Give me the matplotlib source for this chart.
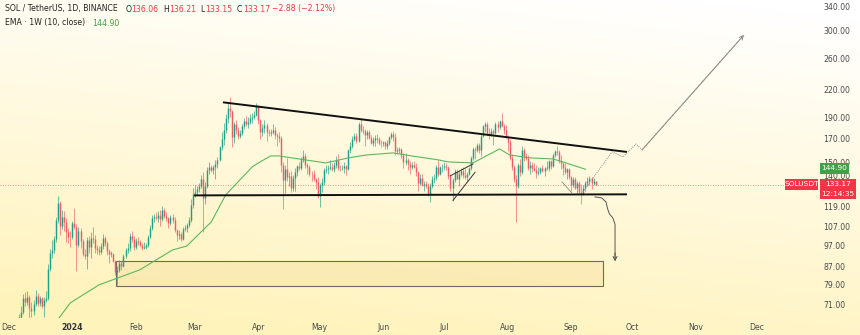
import numpy as np
import pandas as pd
import matplotlib
matplotlib.use("Agg")
import matplotlib.pyplot as plt
import matplotlib.dates as mdates
from matplotlib.patches import Rectangle
from matplotlib.ticker import FixedLocator, NullLocator

W, H = 860, 335

# SOL/USDT daily candles from 2023-12-01, open = previous close
start_day = "2023-12-01"
first_open = 59.0
last_open = 136.06
closes = [
    # Dec
    59.9, 62.2, 61.0, 62.5, 63.5, 66.5, 68.5, 73.8, 72.0, 74.2, 70.0, 68.8, 71.5, 74.6, 71.8, 73.5,
    70.8, 73.0, 73.5, 86.0, 93.5, 94.8, 100.5, 111.0, 121.5, 107.5, 113.0, 110.0, 104.0, 101.5, 101.3,
    # Jan
    109.5, 107.0, 97.5, 105.0, 99.5, 93.0, 92.0, 100.0, 96.5, 101.0, 100.5, 96.0, 95.0, 93.8, 97.0, 101.0,
    98.5, 94.5, 93.0, 93.0, 89.5, 84.5, 85.5, 88.5, 87.3, 92.0, 95.0, 96.0, 102.0, 100.5, 96.5,
    # Feb
    99.5, 99.0, 97.5, 96.0, 96.5, 97.5, 101.5, 106.5, 112.0, 112.5, 112.0, 114.0, 111.5, 117.0, 113.5,
    112.0, 109.0, 113.0, 111.0, 105.5, 102.5, 103.0, 100.5, 106.0, 106.5, 108.0, 111.0, 120.0, 127.5,
    # Mar
    128.5, 130.5, 133.0, 137.5, 124.5, 133.0, 144.5, 146.5, 144.5, 146.5, 149.0, 152.5, 162.5, 170.0, 178.0,
    190.0, 200.0, 196.5, 172.0, 184.0, 178.0, 172.5, 175.5, 182.0, 186.5, 184.0, 186.0, 189.5, 190.5, 193.0, 202.0,
    # Apr
    188.0, 176.0, 180.0, 183.0, 176.0, 175.5, 176.5, 178.5, 173.5, 172.5, 170.5, 148.0, 137.0, 145.0, 139.0,
    139.5, 131.0, 138.5, 143.0, 147.5, 145.5, 152.0, 155.0, 148.0, 146.5, 141.5, 141.0, 137.5, 135.5, 126.0,
    # May
    133.5, 135.5, 144.0, 145.0, 145.5, 147.0, 145.0, 148.0, 152.5, 146.0, 145.5, 146.0, 147.5, 145.0, 160.0,
    163.5, 169.5, 173.0, 168.5, 183.5, 178.5, 177.0, 173.5, 176.5, 171.0, 166.5, 169.0, 171.0, 169.5, 166.5, 166.0,
    # Jun
    167.0, 163.5, 166.5, 171.5, 174.0, 172.0, 159.5, 160.5, 160.8, 156.5, 150.5, 152.0, 149.0, 146.5, 148.5,
    147.0, 142.5, 135.0, 138.5, 133.5, 134.0, 133.0, 127.0, 133.0, 137.5, 138.5, 146.5, 141.0, 146.5, 147.0,
    # Jul
    147.5, 146.5, 140.0, 131.5, 137.0, 143.5, 138.0, 141.0, 143.5, 140.5, 139.0, 141.5, 145.5, 153.5, 161.5,
    160.5, 164.5, 160.5, 173.0, 181.5, 183.5, 175.5, 173.5, 177.0, 175.0, 184.0, 181.0, 186.5, 182.0, 178.5, 171.5,
    # Aug
    167.5, 153.5, 147.0, 137.5, 133.0, 148.0, 143.0, 160.5, 155.0, 154.0, 145.5, 148.5, 146.0, 144.5, 142.0,
    143.0, 145.5, 143.5, 146.0, 146.0, 151.5, 147.5, 156.0, 159.5, 158.5, 151.5, 149.5, 145.5, 143.0, 145.0, 139.0,
    # Sep
    133.5, 137.5, 131.5, 134.5, 128.5, 127.0, 131.5, 134.5, 136.5, 138.5, 134.5, 136.05, 133.17,
]
highs = [
    61.5, 63.0, 64.0, 64.5, 65.0, 67.8, 70.5, 75.2, 76.0, 76.3, 74.8, 72.0, 72.8, 77.0, 75.5, 74.5,
    74.0, 74.0, 76.5, 88.0, 95.5, 100.0, 102.0, 113.0, 126.2, 122.5, 117.0, 116.5, 112.0, 106.5, 104.5,
    110.5, 118.0, 108.5, 107.0, 106.5, 100.5, 95.5, 101.5, 102.0, 104.0, 107.0, 102.5, 97.5, 97.0, 98.5, 103.0,
    102.0, 99.5, 95.5, 94.5, 93.5, 90.0, 87.0, 90.0, 89.5, 93.0, 96.0, 98.5, 103.5, 105.0, 102.0,
    101.0, 101.5, 100.0, 98.5, 99.0, 98.5, 102.5, 108.0, 114.0, 114.5, 116.0, 116.5, 117.0, 119.5, 118.5,
    116.0, 112.5, 114.0, 114.5, 113.0, 106.0, 105.5, 104.0, 107.0, 108.0, 109.5, 112.5, 124.0, 131.0,
    133.5, 132.5, 135.0, 140.5, 142.5, 135.5, 146.5, 150.5, 148.0, 148.5, 152.5, 154.5, 164.0, 176.0, 185.0,
    194.0, 205.0, 212.0, 197.5, 186.0, 188.0, 180.5, 178.0, 183.5, 190.0, 192.0, 190.5, 193.5, 195.0, 196.5, 205.5,
    203.5, 189.0, 183.5, 188.0, 184.5, 179.5, 179.0, 184.0, 181.0, 175.5, 176.5, 172.5, 150.5, 148.0, 153.5,
    142.5, 143.5, 140.5, 145.5, 148.5, 150.5, 154.5, 160.0, 158.0, 149.5, 148.5, 143.5, 144.5, 138.5, 139.0,
    135.0, 138.5, 146.0, 148.0, 148.5, 152.0, 150.0, 150.5, 155.0, 157.0, 148.0, 148.5, 150.5, 148.5, 161.5,
    167.0, 172.5, 175.5, 175.0, 186.0, 189.0, 181.5, 179.5, 178.5, 178.0, 173.5, 171.5, 173.5, 174.0, 172.0, 169.0,
    168.5, 168.0, 169.0, 173.0, 176.0, 177.0, 175.5, 162.5, 163.0, 162.0, 158.0, 158.0, 153.5, 151.5, 150.5,
    151.0, 149.5, 143.5, 141.5, 141.0, 136.0, 136.0, 134.5, 134.5, 139.5, 141.0, 148.5, 152.0, 147.5, 149.0,
    150.5, 150.0, 147.5, 141.5, 138.5, 145.0, 145.0, 144.5, 146.0, 146.5, 146.0, 143.0, 146.5, 155.0, 163.0,
    162.5, 166.5, 166.5, 174.5, 183.0, 186.0, 185.5, 180.0, 180.0, 179.0, 185.5, 187.0, 188.0, 195.0, 184.0, 182.5,
    173.5, 170.0, 157.0, 148.5, 140.5, 150.0, 153.0, 163.5, 162.0, 158.0, 156.5, 151.5, 150.5, 150.0, 148.5,
    146.5, 146.5, 148.5, 147.0, 151.0, 152.5, 152.5, 157.5, 160.5, 163.5, 160.5, 156.0, 150.0, 150.0, 146.0, 145.5,
    140.0, 139.0, 139.0, 136.0, 136.0, 134.0, 133.5, 136.0, 139.0, 140.0, 139.0, 138.5, 136.21,
]
lows = [
    57.8, 59.2, 60.3, 59.5, 61.2, 63.0, 65.0, 67.8, 70.5, 71.0, 64.8, 66.5, 67.5, 70.8, 70.5, 70.8,
    69.8, 66.8, 72.0, 73.0, 85.0, 91.0, 93.5, 99.0, 109.5, 102.5, 106.0, 105.0, 99.0, 98.5, 96.5,
    100.5, 106.0, 85.0, 96.5, 96.0, 92.0, 90.5, 86.0, 93.5, 91.0, 98.5, 93.5, 93.0, 92.5, 93.0, 95.5,
    97.0, 92.5, 88.5, 91.5, 89.0, 83.0, 79.0, 84.5, 85.5, 86.5, 91.0, 93.5, 94.5, 99.0, 95.0,
    95.5, 97.5, 96.5, 95.0, 95.5, 95.5, 96.5, 101.0, 105.5, 110.0, 111.0, 110.0, 107.5, 110.5, 112.0,
    110.5, 106.5, 108.0, 109.5, 104.0, 99.5, 100.5, 99.5, 100.0, 104.5, 104.0, 107.0, 110.0, 118.0,
    125.0, 126.5, 128.5, 131.0, 104.0, 121.0, 131.5, 141.5, 142.5, 141.0, 138.0, 145.5, 151.0, 160.0, 165.0,
    175.0, 185.0, 191.0, 163.0, 166.0, 174.0, 169.5, 171.0, 173.5, 179.0, 181.5, 180.0, 183.5, 185.0, 188.5, 192.0,
    183.5, 170.0, 173.0, 175.5, 168.5, 172.5, 173.0, 174.5, 169.5, 163.5, 167.5, 143.0, 117.5, 128.0, 136.5,
    132.5, 128.5, 129.5, 129.5, 140.0, 144.0, 144.5, 150.5, 146.0, 141.5, 140.0, 136.5, 136.5, 130.5, 124.5,
    119.0, 128.5, 133.5, 142.0, 141.5, 144.0, 143.5, 143.0, 145.5, 144.5, 143.5, 144.0, 142.0, 140.5, 144.5,
    157.5, 162.0, 168.0, 166.0, 167.0, 176.0, 174.5, 163.5, 170.0, 169.5, 165.5, 163.5, 164.0, 166.5, 164.5, 162.5,
    164.0, 161.5, 161.0, 164.5, 170.0, 168.5, 156.5, 157.0, 157.5, 153.5, 145.5, 148.0, 144.5, 141.5, 145.0,
    145.5, 139.5, 129.0, 133.5, 132.5, 129.5, 131.5, 126.0, 122.0, 131.5, 134.5, 137.0, 139.5, 140.5, 142.5,
    144.5, 144.0, 138.0, 129.0, 122.5, 135.5, 137.5, 132.5, 139.5, 138.5, 137.5, 136.5, 140.5, 144.5, 152.5,
    153.0, 158.5, 158.0, 155.5, 171.5, 176.0, 173.5, 169.5, 172.5, 164.5, 174.0, 176.0, 179.5, 181.0, 174.5, 170.5,
    159.5, 152.0, 144.0, 135.5, 110.0, 131.0, 139.5, 141.5, 151.5, 152.5, 144.5, 141.5, 143.0, 143.5, 138.5,
    140.5, 141.5, 142.5, 140.0, 144.5, 143.5, 145.0, 146.5, 154.5, 156.5, 150.0, 145.0, 140.5, 141.5, 137.5, 137.5,
    129.0, 132.0, 130.5, 127.5, 127.5, 121.0, 126.5, 129.5, 133.0, 133.5, 130.5, 133.5, 133.15,
]

# weekly EMA(10) of close, sampled along the daily axis
ema_dates = ["2023-12-24", "2023-12-26", "2023-12-31", "2024-01-14", "2024-02-03", "2024-02-19",
             "2024-02-26", "2024-03-09", "2024-03-16", "2024-03-29", "2024-04-01", "2024-04-07",
             "2024-04-11", "2024-04-24", "2024-05-04", "2024-05-15", "2024-05-24", "2024-06-06",
             "2024-06-15", "2024-06-28", "2024-07-03", "2024-07-15", "2024-07-28", "2024-08-02",
             "2024-08-12", "2024-08-23", "2024-08-28", "2024-09-08"]
ema_values = [65.0, 66.8, 71.8, 78.9, 85.4, 94.8, 96.8, 109.9, 126.6, 146.7, 149.8, 155.4,
              155.4, 152.2, 149.8, 153.8, 156.2, 157.9, 155.4, 152.2, 150.6, 149.8, 161.2, 156.2,
              153.8, 153.0, 150.6, 144.90]

# drawings
resistance = (["2024-03-14 16:00", "2024-09-28 08:00"], [206.0, 158.7])
support = (["2024-02-29 12:00", "2024-09-28 08:00"], [126.3, 127.0])
demand_zone = (["2024-01-22 08:00", "2024-09-16 14:00"], [78.6, 89.5])
wedge_low = (["2024-07-05 05:00", "2024-07-16 00:00"], [123.0, 142.6])
wedge_high = (["2024-07-03 20:00", "2024-07-15 00:00"], [139.9, 149.0])
small_leg = (["2024-08-27 12:00", "2024-09-01 10:00"], [135.6, 127.9])
breakout_path = (["2024-09-06 19:00", "2024-09-21 00:00", "2024-09-26 10:00", "2024-10-02 19:00",
                  "2024-10-05 17:00", "2024-11-24 14:00"],
                 [128.6, 158.7, 154.6, 165.5, 160.4, 293.5])
breakdown_path = (["2024-09-12 17:00", "2024-09-16 00:00", "2024-09-18 02:00", "2024-09-18 22:00",
                   "2024-09-19 18:00", "2024-09-21 10:00", "2024-09-22 12:00", "2024-09-22 12:00"],
                  [125.3, 124.6, 122.0, 117.5, 114.6, 112.2, 108.5, 90.6])

price_ticks = [340, 300, 260, 220, 190, 170, 150, 140, 119, 107, 97, 87, 79, 71]
month_ticks = ["2023-12-01", "2024-01-01", "2024-02-01", "2024-03-01", "2024-04-01", "2024-05-01",
               "2024-06-01", "2024-07-01", "2024-08-01", "2024-09-01", "2024-10-01", "2024-11-01",
               "2024-12-01"]
month_labels = ["Dec", "2024", "Feb", "Mar", "Apr", "May", "Jun", "Jul", "Aug", "Sep", "Oct", "Nov", "Dec"]

last_price = closes[-1]
prev_close = closes[-2]
ema_last = ema_values[-1]

UP = "#1f9f86"
DOWN = "#ee5a67"
RED_TAG = "#f23645"
GREEN_TAG = "#43a047"


def dnum(values):
    return mdates.date2num(pd.to_datetime(values, format="mixed"))


fig = plt.figure(figsize=(W / 100, H / 100), dpi=100)

# soft white-to-yellow backdrop
bg = fig.add_axes([0, 0, 1, 1])
yy, xx = np.mgrid[0:1:200j, 0:1:400j]
t = np.clip(0.9 * yy + 0.25 * (1 - xx) - 0.05, 0, 1)[..., None]
top_c = np.array([1.0, 1.0, 1.0])
bot_c = np.array([1.0, 0.953, 0.74])
bg.imshow(top_c * (1 - t) + bot_c * t, aspect="auto", extent=[0, 1, 0, 1], origin="upper")
bg.set_axis_off()

ax = fig.add_axes([0, 17 / H, 818 / W, 318 / H])
ax.set_facecolor("none")
for s in ax.spines.values():
    s.set_visible(False)

days = pd.date_range(start_day, periods=len(closes), freq="D")
xd = mdates.date2num(days)
c = np.array(closes)
o = np.array([first_open] + closes[:-1])
o[-1] = last_open
hi = np.array(highs)
lo = np.array(lows)
up = c >= o
col = np.where(up, UP, DOWN)

ax.vlines(xd, lo, hi, colors=col, linewidth=0.45, zorder=3)
body_lo = np.minimum(o, c)
body_hi = np.maximum(o, c)
body_hi = np.maximum(body_hi, body_lo * 1.003)
ax.vlines(xd, body_lo, body_hi, colors=col, linewidth=1.05, zorder=3)

# EMA
ax.plot(dnum(ema_dates), ema_values, color="#5cb85c", linewidth=0.8, zorder=4)

# last price line
ax.axhline(last_price, color="#e8797f", linewidth=0.6, linestyle=(0, (1, 2)), zorder=2)

# channel lines
ax.plot(dnum(resistance[0]), resistance[1], color="#111111", linewidth=1.4, zorder=5,
        solid_capstyle="butt")
ax.plot(dnum(support[0]), support[1], color="#111111", linewidth=1.4, zorder=5,
        solid_capstyle="butt")
ax.plot(dnum(wedge_low[0]), wedge_low[1], color="#333333", linewidth=0.7, zorder=5)
ax.plot(dnum(wedge_high[0]), wedge_high[1], color="#333333", linewidth=0.7, zorder=5)
ax.plot(dnum(small_leg[0]), small_leg[1], color="#888888", linewidth=0.6, zorder=5)

# demand zone
zx = dnum(demand_zone[0])
ax.add_patch(Rectangle((zx[0], demand_zone[1][0]), zx[1] - zx[0],
                       demand_zone[1][1] - demand_zone[1][0],
                       facecolor="#f6dfa0", alpha=0.45, edgecolor="none", zorder=2))
ax.add_patch(Rectangle((zx[0], demand_zone[1][0]), zx[1] - zx[0],
                       demand_zone[1][1] - demand_zone[1][0],
                       facecolor="none", edgecolor="#6d6a60", linewidth=0.8, zorder=2))

# projected moves
bx = dnum(breakout_path[0])
ax.plot(bx, breakout_path[1], color="#8a8a8a", linewidth=0.7, linestyle=(0, (1, 1.2)), zorder=5)
ax.annotate("", xy=(bx[-1], breakout_path[1][-1]), xytext=(bx[-2], breakout_path[1][-2]),
            arrowprops=dict(arrowstyle="->", color="#8a8a8a", lw=0.7, shrinkA=0, shrinkB=0,
                            mutation_scale=7), zorder=5)
dx = dnum(breakdown_path[0])
ax.plot(dx, breakdown_path[1], color="#555555", linewidth=0.7, zorder=5)
ax.annotate("", xy=(dx[-1], breakdown_path[1][-1] * 0.985), xytext=(dx[-1], breakdown_path[1][-1] * 1.03),
            arrowprops=dict(arrowstyle="->", color="#555555", lw=0.7, shrinkA=0, shrinkB=0,
                            mutation_scale=7), zorder=5)

# axes
ax.set_yscale("log")
ax.set_ylim(66.3, 352.7)
x0 = mdates.date2num(pd.Timestamp(start_day)) - 4.4
ax.set_xlim(x0, x0 + 818 / 2.044)

ax.yaxis.tick_right()
ax.yaxis.set_major_locator(FixedLocator(price_ticks))
ax.yaxis.set_minor_locator(NullLocator())
ax.set_yticklabels([f"{v:.2f}" for v in price_ticks])
ax.tick_params(axis="y", length=0, pad=3.6, labelsize=5.6, labelcolor="#4a4a4a")

ax.xaxis.set_major_locator(FixedLocator(dnum(month_ticks)))
ax.xaxis.set_minor_locator(NullLocator())
ax.set_xticklabels(month_labels)
ax.tick_params(axis="x", length=0, pad=3.5, labelsize=5.6, labelcolor="#4a4a4a")
for lbl in ax.get_xticklabels():
    if lbl.get_text() == "2024":
        lbl.set_fontweight("bold")
        lbl.set_color("#333333")


def fx(px):
    return px / W


def fy(py):
    return 1 - py / H


# price tags on the scale
def tag(x_left, y_top, w, h, color, lines):
    fig.patches.append(Rectangle((fx(x_left), fy(y_top + h)), w / W, h / H,
                                 transform=fig.transFigure, facecolor=color, edgecolor="none",
                                 zorder=10))
    for i, s in enumerate(lines):
        fig.text(fx(x_left + w / 2), fy(y_top + 5.5 + i * 9.5), s, color="white", fontsize=5.4,
                 ha="center", va="center", zorder=11)


tag(820, 163, 29, 11, GREEN_TAG, [f"{ema_last:.2f}"])
tag(785, 179, 33, 11, RED_TAG, ["SOLUSDT"])
tag(820, 179, 36, 20, RED_TAG, [f"{last_price:.2f}", "12:14:35"])

# header
hy1, hy2 = 9, 23
fs = 5.55
fig.text(fx(5), fy(hy1), "SOL / TetherUS, 1D, BINANCE", fontsize=fs, color="#222222", va="center")
parts = [("O", 126, "#222222"), (f"{o[-1]:.2f}", 131, RED_TAG), ("H", 163, "#222222"),
         (f"{hi[-1]:.2f}", 169, RED_TAG), ("L", 200, "#222222"), (f"{lo[-1]:.2f}", 205, RED_TAG),
         ("C", 237, "#222222"), (f"{c[-1]:.2f}", 243, RED_TAG)]
for s, px, colr in parts:
    fig.text(fx(px), fy(hy1), s, fontsize=fs, color=colr, va="center")
chg = last_price - prev_close
fig.text(fx(272), fy(hy1), f"\u2212{abs(chg):.2f} (\u2212{abs(chg) / prev_close * 100:.2f}%)",
         fontsize=fs, color=RED_TAG, va="center")
fig.text(fx(5), fy(hy2), "EMA \u00b7 1W (10, close)", fontsize=fs, color="#222222", va="center")
fig.text(fx(92), fy(hy2), f"{ema_last:.2f}", fontsize=fs, color=GREEN_TAG, va="center")

fig.savefig("out.png", dpi=100)
